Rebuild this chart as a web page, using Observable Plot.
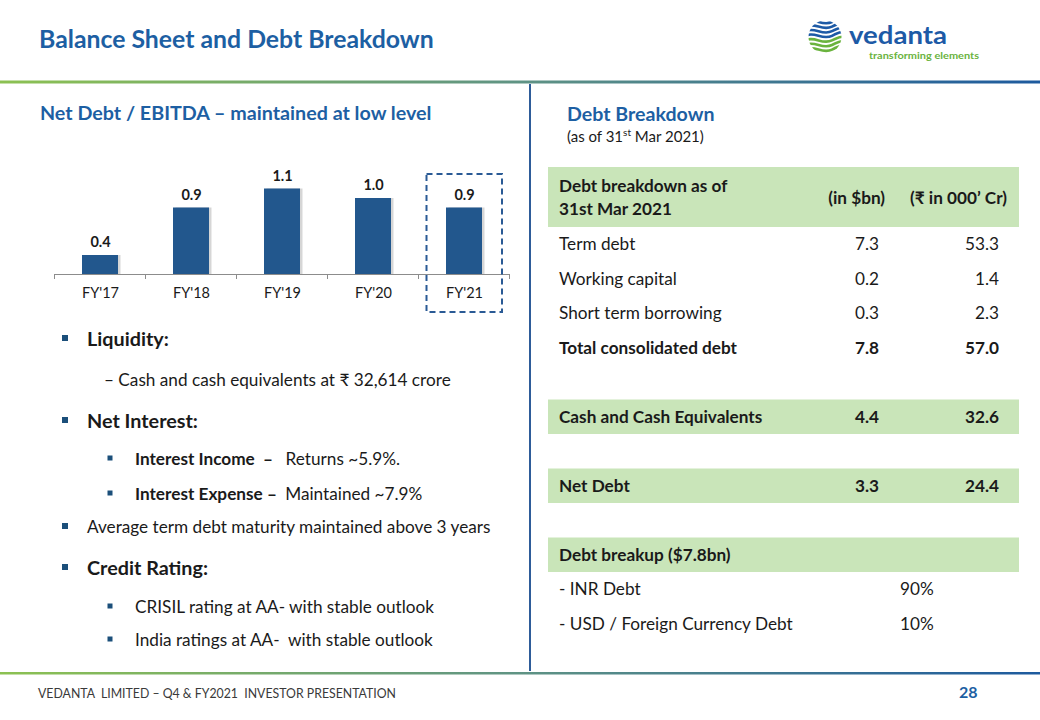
<!DOCTYPE html>
<html><head><meta charset="utf-8">
<script src="https://cdn.jsdelivr.net/npm/d3@7"></script>
<script src="https://cdn.jsdelivr.net/npm/@observablehq/plot@0.6"></script>
<style>
html,body{margin:0;padding:0;background:#fff;}
#slide{position:relative;width:1040px;height:720px;overflow:hidden;font-family:Lato,"Open Sans",sans-serif;}
#bg{position:absolute;left:0;top:0;}
#chart{position:absolute;left:0;top:150px;}
text{white-space:pre;}
</style></head><body>
<div id="slide"><svg id="bg" width="1040" height="720"></svg><div id="chart"></div></div>
<script>
// ---------- data ----------
const years = ["FY'17", "FY'18", "FY'19", "FY'20", "FY'21"];
const netDebtToEbitda = [0.4, 0.9, 1.1, 1.0, 0.9];
const highlightYear = "FY'21";

const slideTitle = "Balance Sheet and Debt Breakdown";
const chartTitle = "Net Debt / EBITDA – maintained at low level";
const tableTitle = "Debt Breakdown";
const footerText = "VEDANTA  LIMITED – Q4 & FY2021  INVESTOR PRESENTATION";
const pageNumber = "28";
const logoWord = "vedanta";
const logoTagline = "transforming elements";

const headerLines = ["Debt breakdown as of", "31st Mar 2021"];
const headerCols = ["(in $bn)", "(₹ in 000’ Cr)"];
const debtLabels = ["Term debt", "Working capital", "Short term borrowing", "Total consolidated debt"];
const debtUsd = ["7.3", "0.2", "0.3", "7.8"];
const debtInr = ["53.3", "1.4", "2.3", "57.0"];
const summaryLabels = ["Cash and Cash Equivalents", "Net Debt"];
const summaryUsd = ["4.4", "3.3"];
const summaryInr = ["32.6", "24.4"];
const breakupTitle = "Debt breakup ($7.8bn)";
const breakupLabels = ["- INR Debt", "- USD / Foreign Currency Debt"];
const breakupShares = ["90%", "10%"];

const bulletLevels = [1, 0, 1, 2, 2, 1, 1, 2, 2];
const bulletBold = ["Liquidity:", "", "Net Interest:", "Interest Income  –   ", "Interest Expense –  ", "", "Credit Rating:", "", ""];
const bulletText = ["", "– Cash and cash equivalents at ₹ 32,614 crore", "", "Returns ~5.9%.", "Maintained ~7.9%",
  "Average term debt maturity maintained above 3 years", "", "CRISIL rating at AA- with stable outlook", "India ratings at AA-  with stable outlook"];

// ---------- slide decoration ----------
const BLUE = "#1d5fa3", BAR = "#22578d", GREEN = "#c9e5b9", INK = "#1a1a1a";
const svg = d3.select("#bg");
const defs = svg.append("defs");
const grad = defs.append("linearGradient").attr("id", "rule").attr("x1", 0).attr("x2", 1);
grad.append("stop").attr("offset", 0).attr("stop-color", "#8cc152");
grad.append("stop").attr("offset", 0.5).attr("stop-color", "#5f9384");
grad.append("stop").attr("offset", 1).attr("stop-color", "#1d5a9e");
svg.append("rect").attr("x", 0).attr("y", 80.5).attr("width", 1040).attr("height", 3).attr("fill", "url(#rule)");
svg.append("rect").attr("x", 0).attr("y", 672).attr("width", 1040).attr("height", 2.5).attr("fill", "url(#rule)");
svg.append("rect").attr("x", 529).attr("y", 84).attr("width", 2).attr("height", 587).attr("fill", "#2e5c99");

svg.append("text").attr("x", 39).attr("y", 48).attr("font-size", 24.8).attr("font-weight", 700).attr("fill", BLUE).text(slideTitle);
svg.append("text").attr("x", 40).attr("y", 119.5).attr("font-size", 19.7).attr("font-weight", 700).attr("fill", BLUE).text(chartTitle);
svg.append("text").attr("x", 567).attr("y", 120.5).attr("font-size", 19.6).attr("font-weight", 700).attr("fill", BLUE).text(tableTitle);
const asof = svg.append("text").attr("x", 567).attr("y", 142).attr("font-size", 15).attr("fill", INK);
asof.append("tspan").text("(as of 31");
asof.append("tspan").attr("font-size", 10).attr("dy", -6).text("st");
asof.append("tspan").attr("dy", 6).text(" Mar 2021)");

svg.append("text").attr("x", 38).attr("y", 698).attr("font-size", 12.5).attr("fill", "#3a3a3a")
  .attr("textLength", 358).attr("lengthAdjust", "spacingAndGlyphs").text(footerText);
svg.append("text").attr("x", 959).attr("y", 698).attr("font-size", 16).attr("font-weight", 700).attr("fill", BLUE).text(pageNumber);

// logo
const logo = svg.append("g");
defs.append("clipPath").attr("id", "globe").append("circle").attr("cx", 825).attr("cy", 37).attr("r", 16.5);
const globe = logo.append("g").attr("clip-path", "url(#globe)");
for (let k = 0; k < 7; k++) {
  const yy = 22 + k * 4.6;
  globe.append("path")
    .attr("d", `M805,${yy} C815,${yy - 5} 822,${yy + 5} 832,${yy} S842,${yy - 4} 848,${yy - 1}`)
    .attr("fill", "none").attr("stroke", k < 4 ? "#1d5aa6" : "#6ab33e").attr("stroke-width", 2.6);
}
logo.append("text").attr("x", 849).attr("y", 43.5).attr("font-size", 24.5).attr("font-weight", 700).attr("fill", "#1d5aa6")
  .attr("textLength", 98).attr("lengthAdjust", "spacingAndGlyphs").text(logoWord);
logo.append("text").attr("x", 869).attr("y", 58.7).attr("font-size", 10).attr("font-weight", 700).attr("fill", "#6ab33e")
  .attr("textLength", 110).attr("lengthAdjust", "spacingAndGlyphs").text(logoTagline);

// ---------- left bullet list ----------
const rowY = [346, 386, 428, 465, 500, 533, 575, 613, 646];
bulletLevels.forEach((lvl, i) => {
  const y = rowY[i];
  const big = bulletBold[i] && !bulletText[i];
  if (lvl === 1) svg.append("rect").attr("x", 62).attr("y", y - (big ? 11 : 10)).attr("width", 6).attr("height", 6).attr("fill", "#1b4f7a");
  if (lvl === 2) svg.append("rect").attr("x", 107.5).attr("y", y - 9.5).attr("width", 5).attr("height", 5).attr("fill", "#1b4f7a");
  const x = lvl === 1 ? 87 : lvl === 2 ? 135 : 104;
  const t = svg.append("text").attr("x", x).attr("y", y).attr("fill", INK).attr("font-size", big ? 19.8 : 17.2);
  if (bulletBold[i]) t.append("tspan").attr("font-weight", 700).text(bulletBold[i]);
  if (bulletText[i]) t.append("tspan").text(bulletText[i]);
});

// ---------- debt table ----------
const TL = 548, TR = 1019, C1 = 879, C2 = 999, RH = 34.5, T0 = 227, FS = 17.2;
svg.append("rect").attr("x", TL).attr("y", 167).attr("width", TR - TL).attr("height", 60).attr("fill", GREEN);
svg.append("text").attr("x", 559).attr("y", 192).attr("font-size", 17.2).attr("font-weight", 700).attr("fill", INK).text(headerLines[0]);
svg.append("text").attr("x", 559).attr("y", 215).attr("font-size", 17.2).attr("font-weight", 700).attr("fill", INK).text(headerLines[1]);
svg.append("text").attr("x", 885).attr("y", 204).attr("font-size", 17.2).attr("font-weight", 700).attr("fill", INK).attr("text-anchor", "end").text(headerCols[0]);
svg.append("text").attr("x", 1007).attr("y", 204).attr("font-size", 17.2).attr("font-weight", 700).attr("fill", INK).attr("text-anchor", "end").text(headerCols[1]);

function tableRow(idx, label, usd, inr, bold, shaded) {
  const top = T0 + idx * RH, base = top + RH / 2 + 6;
  if (shaded) svg.append("rect").attr("x", TL).attr("y", top).attr("width", TR - TL).attr("height", RH).attr("fill", GREEN);
  const fw = bold ? 700 : 400;
  svg.append("text").attr("x", 559).attr("y", base).attr("font-size", FS).attr("font-weight", fw).attr("fill", INK).text(label);
  if (usd) svg.append("text").attr("x", C1).attr("y", base).attr("font-size", FS).attr("font-weight", fw).attr("fill", INK).attr("text-anchor", "end").text(usd);
  if (inr) svg.append("text").attr("x", C2).attr("y", base).attr("font-size", FS).attr("font-weight", fw).attr("fill", INK).attr("text-anchor", "end").text(inr);
}
debtLabels.forEach((l, i) => tableRow(i, l, debtUsd[i], debtInr[i], i === debtLabels.length - 1, false));
summaryLabels.forEach((l, i) => tableRow(5 + i * 2, l, summaryUsd[i], summaryInr[i], true, true));
tableRow(9, breakupTitle, "", "", true, true);
breakupLabels.forEach((l, i) => {
  tableRow(10 + i, l, "", "", false, false);
  svg.append("text").attr("x", 900).attr("y", T0 + (10 + i) * RH + RH / 2 + 6).attr("font-size", FS).attr("fill", INK).text(breakupShares[i]);
});

// ---------- Net Debt / EBITDA chart (Observable Plot) ----------
const data = years.map((y, i) => ({year: y, value: netDebtToEbitda[i]}));
const Y0 = 0.2;
const boundaryTicks = (index, scales) => {
  const x = scales.x, y = scales.y;
  const g = d3.create("svg:g").attr("stroke", "#8c8c8c").attr("stroke-width", 1);
  const step = x.step(), start = x(years[0]) - (step - x.bandwidth()) / 2, y0 = y(Y0);
  for (let k = 0; k <= years.length; k++) {
    g.append("line").attr("x1", start + k * step).attr("x2", start + k * step).attr("y1", y0).attr("y2", y0 + 5);
  }
  return g.node();
};
const chart = Plot.plot({
  width: 530, height: 175,
  marginLeft: 55, marginRight: 20, marginTop: 29, marginBottom: 51,
  style: {fontFamily: "Lato, 'Open Sans', sans-serif", color: INK, background: "transparent", overflow: "visible"},
  x: {domain: years, paddingInner: 0.6, paddingOuter: 0.3, axis: null},
  y: {domain: [Y0, 1.2], axis: null},
  marks: [
    Plot.barY(data, {x: "year", y1: Y0, y2: "value", fill: "#8a8a8a", fillOpacity: 0.35, dx: 2.5}),
    Plot.barY(data, {x: "year", y1: Y0, y2: "value", fill: BAR}),
    Plot.ruleY([Y0], {stroke: "#8c8c8c", strokeWidth: 1}),
    boundaryTicks,
    Plot.axisX({tickSize: 0, tickPadding: 13, fontSize: 14.5, fill: INK, label: null}),
    Plot.text(data, {x: "year", y: "value", text: d => d.value.toFixed(1), dy: -13, fontSize: 14.5, fontWeight: 700, fill: INK}),
    Plot.cell([highlightYear], {x: d => d, fill: "none", stroke: "#2a5a95", strokeWidth: 2, strokeDasharray: "6,4",
      insetLeft: -19.5, insetRight: -20, insetTop: -5, insetBottom: -38})
  ]
});
document.getElementById("chart").appendChild(chart);
</script>
</body></html>
